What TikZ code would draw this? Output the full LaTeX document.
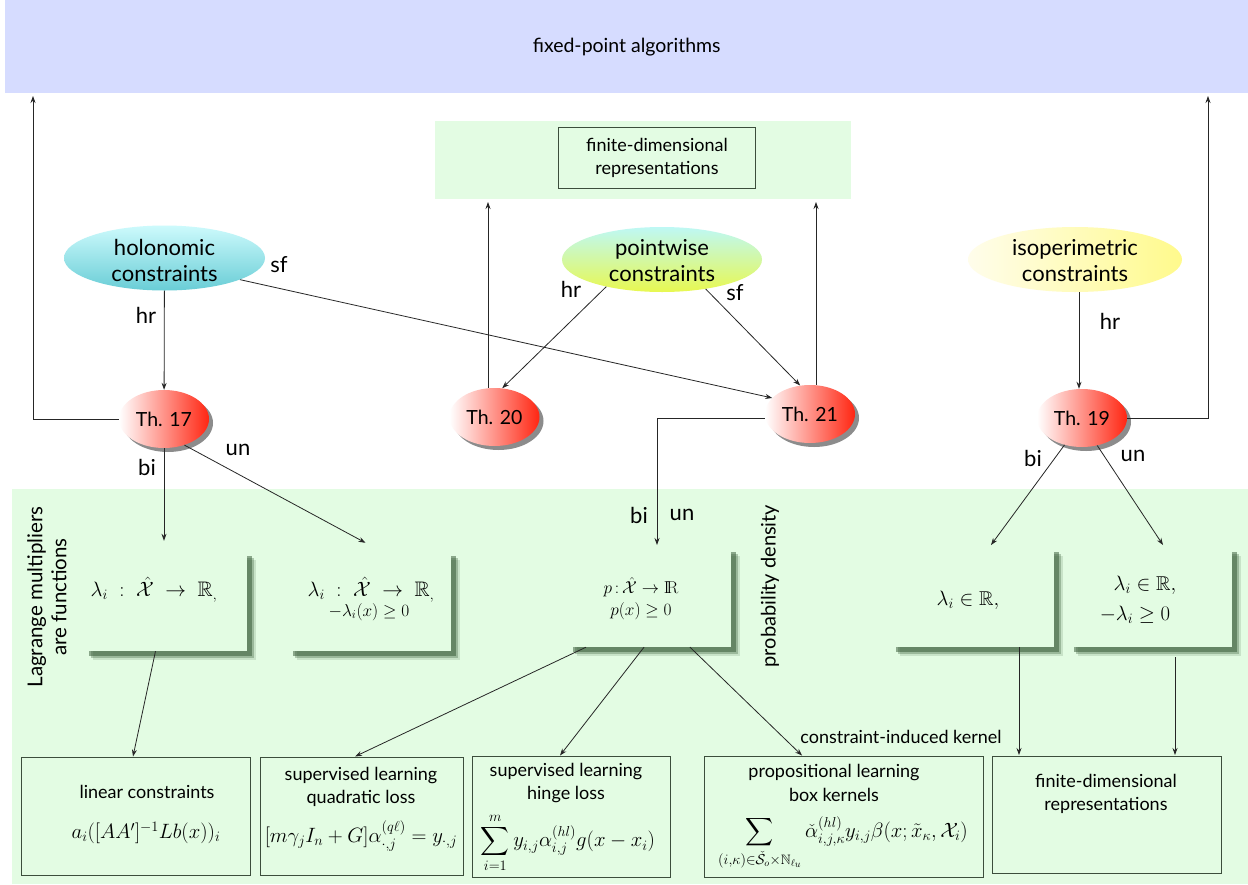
\documentclass[tikz,border=0pt]{standalone}
\usepackage{amsmath,amssymb}
\usepackage[no-math]{fontspec}
\setmainfont{Lato}
\usetikzlibrary{shapes.geometric,shadows,arrows.meta}
\definecolor{lav}{RGB}{214,220,255}
\definecolor{lgreen}{RGB}{227,252,227}
\definecolor{thred}{RGB}{255,38,18}
\definecolor{shgreen}{RGB}{50,85,50}
\definecolor{bgreen}{RGB}{60,78,60}
\definecolor{holotop}{RGB}{205,250,252}
\definecolor{holobot}{RGB}{105,205,214}
\definecolor{pwtop}{RGB}{190,248,245}
\definecolor{pwbot}{RGB}{232,248,80}
\definecolor{isoleft}{RGB}{255,253,235}
\definecolor{isoright}{RGB}{255,250,140}
\begin{document}
\begin{tikzpicture}[x=1pt,y=-1pt,
 arr/.style={draw=black!85, line width=0.8pt, -{Stealth[length=7pt,width=5pt]}},
 lbl/.style={font=\fontsize{22}{24}\selectfont, inner sep=0pt},
 ctext/.style={align=center, font=\fontsize{22}{26}\selectfont, inner sep=0pt},
 cons/.style={ellipse, inner sep=0pt},
 th/.style={ellipse, minimum width=90pt, minimum height=58pt, inner sep=0pt, left color=white, right color=thred, font=\fontsize{19.5}{22}\selectfont, drop shadow={shadow xshift=4pt, shadow yshift=-4pt, opacity=0.45, fill=black}},
 midbox/.style={rectangle, minimum width=163pt, minimum height=100pt, inner sep=0pt, fill=lgreen,
   drop shadow={shadow xshift=9pt, shadow yshift=-9pt, opacity=0.15, fill=shgreen},
   drop shadow={shadow xshift=7pt, shadow yshift=-7pt, opacity=0.3, fill=shgreen},
   drop shadow={shadow xshift=5pt, shadow yshift=-5pt, opacity=0.5, fill=shgreen}},
 botbox/.style={rectangle, draw=bgreen, line width=1pt, fill=lgreen, inner sep=0pt},
 btext/.style={align=center, font=\fontsize{18}{23.5}\selectfont, inner sep=0pt},
 mth/.style={font=\fontsize{19}{23}\selectfont, inner sep=0pt},
 mths/.style={font=\fontsize{17}{20}\selectfont, inner sep=0pt},
]
\useasboundingbox (0,0) rectangle (1248,884);
\fill[white] (0,0) rectangle (1248,884);
% bands
\node[fill=lav, minimum width=1243pt, minimum height=93pt, inner sep=0pt, anchor=north west, font=\fontsize{19.5}{22}\selectfont] (fpa) at (5,0) {fixed-point algorithms};
\node[fill=lgreen, minimum width=416pt, minimum height=78pt, inner sep=0pt, anchor=north west] (topband) at (435,121) {};
\node[botbox, btext, minimum width=197pt, minimum height=61pt, anchor=north west] (fdtop) at (558,127) {finite-dimensional\\representations};
\fill[lgreen] (12,489) rectangle (1248,884);

% constraint ellipses
\node[cons, minimum width=201pt, minimum height=65pt, top color=holotop, bottom color=holobot] (holo) at (164.5,258) {};
\node[ctext] (holoT) at (164.5,260) {holonomic\\constraints};
\node[cons, minimum width=200pt, minimum height=65pt, top color=pwtop, bottom color=pwbot] (pw) at (662,259.5) {};
\node[ctext] (pwT) at (662,261) {pointwise\\constraints};
\node[cons, minimum width=214pt, minimum height=65pt, left color=isoleft, right color=isoright] (iso) at (1075,259.5) {};
\node[ctext] (isoT) at (1075,261) {isoperimetric\\constraints};

% theorem nodes
\node[th] (th17) at (164,419) {Th. 17};
\node[th] (th20) at (494.5,417) {Th. 20};
\node[th] (th21) at (810,414) {Th. 21};
\node[th] (th19) at (1082,418) {Th. 19};

% middle boxes
\node[midbox] (b1) at (165.5,601) {};
\node[midbox] (b2) at (369.5,601) {};
\node[midbox] (b3) at (649.5,597) {};
\node[midbox] (b4) at (972.5,597) {};
\node[midbox] (b5) at (1150.5,597) {};
\node[mth, font=\fontsize{21}{24}\selectfont] (b1t) at (154,590) {$\lambda_i\;:\;\hat{\mathcal{X}}\;\to\;\mathbb{R}_{,}$};
\node[mth, font=\fontsize{21}{24}\selectfont] (b2t) at (371,590) {$\lambda_i\;:\;\hat{\mathcal{X}}\;\to\;\mathbb{R}_{,}$};
\node[mths] (b2u) at (369,612) {$-\lambda_i(x)\geq 0$};
\node[mth, font=\fontsize{17}{20}\selectfont] (b3t) at (641,587) {$p\,{:}\,\hat{\mathcal{X}}\to \mathrm{I\!R}$};
\node[mth, font=\fontsize{17}{20}\selectfont] (b3u) at (641,611) {$p(x)\geq 0$};
\node[mth, font=\fontsize{20}{24}\selectfont] (b4t) at (968,600) {$\lambda_i\in\mathbb{R},$};
\node[mth, font=\fontsize{20}{24}\selectfont] (b5t) at (1145,585) {$\lambda_i\in\mathbb{R},$};
\node[mth, font=\fontsize{20}{24}\selectfont] (b5u) at (1135,615) {$-\lambda_i\geq 0$};

% bottom boxes
\node[botbox, minimum width=229pt, minimum height=118pt] (b6) at (135.5,816) {};
\node[botbox, minimum width=203pt, minimum height=118pt] (b7) at (361.5,816) {};
\node[botbox, minimum width=198pt, minimum height=121pt] (b8) at (571,816.5) {};
\node[botbox, minimum width=279pt, minimum height=121pt] (b9) at (843.5,816.5) {};
\node[botbox, minimum width=229pt, minimum height=117pt] (b10) at (1106.5,814.5) {};
\node[btext] (b6t) at (147,792) {linear constraints};
\node[mth, font=\fontsize{19.5}{23}\selectfont] (b6m) at (146,833) {$a_i([AA']^{-1}Lb(x))_i$};
\node[btext] (b7t) at (361,787) {supervised learning\\quadratic loss};
\node[mth, font=\fontsize{20.5}{24}\selectfont] (b7m) at (361,836) {$[m\gamma_jI_n+G]\alpha^{(q\ell)}_{\cdot,j}=y_{\cdot,j}$};
\node[btext] (b8t) at (566,783) {supervised learning\\hinge loss};
\node[mth, font=\fontsize{20}{24}\selectfont] (b8m) at (568,843) {$\displaystyle\sum_{i=1}^{m} y_{i,j}\alpha^{(hl)}_{i,j}g(x-x_i)$};
\node[btext] (b9t) at (834,783) {propositional learning\\box kernels};
\node[mth, font=\fontsize{19.5}{23}\selectfont] (b9m) at (843,843) {$\displaystyle\sum_{(i,\kappa)\in\check{\mathcal{S}}_o\times\mathbb{N}_{\ell_u}}\check{\alpha}^{(hl)}_{i,j,\kappa}y_{i,j}\beta(x;\tilde{x}_\kappa,\mathcal{X}_i)$};
\node[btext] (b10t) at (1106,794) {finite-dimensional\\representations};

% labels
\node[lbl] (l1) at (146,315) {hr};
\node[lbl] (l2) at (279,265) {sf};
\node[lbl] (l3) at (147,467) {bi};
\node[lbl] (l4) at (238,450) {un};
\node[lbl] (l5) at (571,289) {hr};
\node[lbl] (l6) at (735,293) {sf};
\node[lbl] (l7) at (1110,321) {hr};
\node[lbl] (l8) at (1033,458) {bi};
\node[lbl] (l9) at (1133,456) {un};
\node[lbl] (l10) at (639,515) {bi};
\node[lbl] (l11) at (682,515) {un};
\node[btext] (cik) at (901,737) {constraint-induced kernel};
\node[rotate=90, align=center, font=\fontsize{20.5}{24}\selectfont, inner sep=0pt] (lagr) at (47,597) {Lagrange multipliers\\are functions};
\node[rotate=90, font=\fontsize{20}{24}\selectfont, inner sep=0pt] (prob) at (770,586) {probability density};

% coordinates
\coordinate (g20) at (488,202);
\coordinate (g21) at (816,202);
\coordinate (fp17) at (33,96);
\coordinate (fp19) at (1208,96);
\coordinate (c19) at (1079,0);
\coordinate (c3) at (657,545);
\coordinate (c4) at (991,545);
\coordinate (c5) at (1163,545);
\coordinate (c10a) at (1019,755);
\coordinate (c10b) at (1175,755);

% connectors
\draw[arr] (holo) -- (th17);
\draw[arr] (holo.-16) -- (th21.157);
\draw[arr] (pw.206) -- (th20.75);
\draw[arr] (pw.-34) -- (th21.109);
\draw[arr] (th20.north -| g20) -- (g20);
\draw[arr] (th21.north -| g21) -- (g21);
\draw[arr] (th17.west) -| (fp17);
\draw[arr] (th19.east) -| (fp19);
\draw[arr] (iso.south -| c19) -- (th19.north -| c19);
\draw[arr, shorten >=10pt] (th17.south) -- (th17.south |- b1.north);
\draw[arr] (th17.-52) -- ([xshift=-4pt,yshift=8pt]b2.north);
\draw[arr] ([yshift=-4pt]th21.west) -| (c3);
\draw[arr] (th19.237) -- (c4);
\draw[arr] (th19.-61) -- (c5);
\draw[arr] ([xshift=-10pt]b1.south) -- ([xshift=-2.5pt]b6.north);
\draw[arr] ([xshift=-63.5pt]b3.south) -- ([xshift=-6.5pt]b7.north);
\draw[arr] ([xshift=-5.5pt]b3.south) -- ([xshift=-11pt]b8.north);
\draw[arr] ([xshift=40.5pt]b3.south) -- ([xshift=-41.5pt]b9.north);
\draw[arr] (b4.south -| c10a) -- (c10a);
\draw[arr] ([yshift=-10pt]b5.south -| c10b) -- (c10b);
\end{tikzpicture}
\end{document}
